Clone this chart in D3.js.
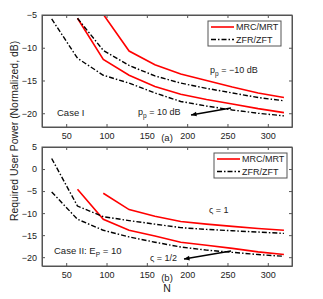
<!DOCTYPE html>
<html>
<head>
  <script src="https://d3js.org/d3.v7.min.js"></script>
  <style>
    body { margin: 0; background: #fff; }
    text { font-family: "Liberation Sans", Arial, sans-serif; fill: #222; }
  </style>
</head>
<body>
  <div id="chart"></div>
  <script>
    // x values (number of antennas N)
    const nZF = [32, 64, 96, 128, 160, 192, 224, 256, 288, 320];
    const nMRC = [64, 96, 128, 160, 192, 224, 256, 288, 320];

    // Case I (top panel)
    const mrcHighA = [-5.5, -11.8, -14.2, -15.9, -17.1, -17.9, -18.6, -19.3, -19.9];   // pp = 10 dB
    const mrcLowA = [null, -4.9, -10.5, -12.6, -14.0, -15.0, -16.0, -16.9, -17.6];      // pp = -10 dB
    const zfHighA = [-5.6, -11.6, -14.2, -15.4, -16.9, -18.2, -18.9, -19.5, -20.0, -20.4];
    const zfLowA = [null, -5.5, -10.4, -12.7, -14.3, -15.4, -16.2, -16.9, -17.6, -18.1];

    // Case II (bottom panel)
    const mrcHalfB = [-4.6, -11.4, -13.9, -15.2, -16.6, -17.3, -18.0, -18.8, -19.4];
    const mrcOneB = [null, -5.5, -9.2, -10.7, -11.9, -12.5, -13.0, -13.5, -13.9];
    const zfHalfB = [-5.2, -11.4, -13.9, -15.4, -16.6, -17.7, -18.4, -18.9, -19.4, -19.8];
    const zfOneB = [2.4, -8.4, -10.8, -11.7, -12.5, -13.3, -13.7, -14.0, -14.3, -14.6];

    const xTicks = [50, 100, 150, 200, 250, 300];
    const yTicksA = [-5, -10, -15, -20];
    const yTicksB = [5, 0, -5, -10, -15, -20];
    const legendNames = ["MRC/MRT", "ZFR/ZFT"];

    const W = 323, H = 299;
    const svg = d3.select("#chart").append("svg").attr("width", W).attr("height", H);

    const x = d3.scaleLinear().domain([20, 330]).range([42, 292]);
    const axisColor = "#555";
    const fmt = d => d < 0 ? "\u2212" + Math.abs(d) : String(d);

    function panel(top, bottom, yDomain, yTicks, series, clipId) {
      const y = d3.scaleLinear().domain(yDomain).range([bottom, top]);
      const g = svg.append("g");

      g.append("clipPath").attr("id", clipId).append("rect")
        .attr("x", 42).attr("y", top).attr("width", 250).attr("height", bottom - top);

      const line = d3.line()
        .defined(d => d[1] != null)
        .x(d => x(d[0])).y(d => y(d[1]));

      series.forEach(s => {
        g.append("path")
          .datum(s.xs.map((n, i) => [n, s.ys[i]]))
          .attr("clip-path", `url(#${clipId})`)
          .attr("fill", "none")
          .attr("stroke", s.red ? "#f00" : "#000")
          .attr("stroke-width", s.red ? 1.6 : 1.4)
          .attr("stroke-dasharray", s.red ? null : "5,2,1.5,2")
          .attr("d", line);
      });

      // axes with inward ticks (box style)
      const bottomAxis = d3.axisBottom(x).tickValues(xTicks).tickSizeInner(-3).tickSizeOuter(0).tickPadding(6);
      const leftAxis = d3.axisLeft(y).tickValues(yTicks).tickSizeInner(-3).tickSizeOuter(0).tickPadding(5).tickFormat(fmt);
      const ax1 = g.append("g").attr("transform", `translate(0,${bottom})`).call(bottomAxis);
      const ax2 = g.append("g").attr("transform", "translate(42,0)").call(leftAxis);
      const ax3 = g.append("g").attr("transform", `translate(0,${top})`)
        .call(d3.axisTop(x).tickValues(xTicks).tickSizeInner(-3).tickSizeOuter(0).tickFormat(""));
      const ax4 = g.append("g").attr("transform", "translate(292,0)")
        .call(d3.axisRight(y).tickValues(yTicks).tickSizeInner(-3).tickSizeOuter(0).tickFormat(""));
      [ax1, ax2, ax3, ax4].forEach(a => {
        a.selectAll("path, line").attr("stroke", axisColor);
        a.selectAll("text").attr("font-size", 9).attr("fill", "#222")
          .style("font-family", "'Liberation Sans', Arial, sans-serif");
      });
      g.append("rect").attr("x", 42).attr("y", top).attr("width", 250).attr("height", bottom - top)
        .attr("fill", "none").attr("stroke", axisColor).attr("stroke-width", 1);
      return { g, y };
    }

    function legend(g, x0, y0) {
      g.append("rect").attr("x", x0).attr("y", y0).attr("width", 73).attr("height", 25)
        .attr("fill", "#fff").attr("stroke", axisColor);
      legendNames.forEach((name, i) => {
        const ly = y0 + 6 + i * 12.5;
        g.append("line").attr("x1", x0 + 3).attr("x2", x0 + 26).attr("y1", ly).attr("y2", ly)
          .attr("stroke", i === 0 ? "#f00" : "#000")
          .attr("stroke-width", i === 0 ? 1.6 : 1.4)
          .attr("stroke-dasharray", i === 0 ? null : "5,2,1.5,2");
        g.append("text").attr("x", x0 + 28).attr("y", ly + 3.3).attr("font-size", 9).text(name);
      });
    }

    function arrow(g, x1, y1, x2, y2) {
      g.append("line").attr("x1", x1).attr("y1", y1).attr("x2", x2).attr("y2", y2)
        .attr("stroke", "#000").attr("stroke-width", 1.3);
      const a = Math.atan2(y2 - y1, x2 - x1), L = 6, w = 0.4;
      const p = [[x2, y2],
        [x2 - L * Math.cos(a - w), y2 - L * Math.sin(a - w)],
        [x2 - L * Math.cos(a + w), y2 - L * Math.sin(a + w)]];
      g.append("path").attr("d", d3.line()(p) + "Z").attr("fill", "#000");
    }

    // top panel
    const A = panel(15, 127, [-22.1, -5], yTicksA, [
      { xs: nMRC, ys: mrcHighA, red: true },
      { xs: nMRC, ys: mrcLowA, red: true },
      { xs: nZF, ys: zfHighA, red: false },
      { xs: nZF, ys: zfLowA, red: false }
    ], "clipA");
    legend(A.g, 208, 21);
    A.g.append("text").attr("x", 57).attr("y", 116).attr("font-size", 9.5).text("Case I");
    const tA1 = A.g.append("text").attr("x", 210).attr("y", 73).attr("font-size", 9);
    tA1.append("tspan").text("p");
    tA1.append("tspan").attr("font-size", 6.5).attr("dy", 2.5).text("p");
    tA1.append("tspan").attr("dy", -2.5).text(" = \u221210 dB");
    const tA2 = A.g.append("text").attr("x", 138).attr("y", 115).attr("font-size", 9);
    tA2.append("tspan").text("p");
    tA2.append("tspan").attr("font-size", 6.5).attr("dy", 2.5).text("p");
    tA2.append("tspan").attr("dy", -2.5).text(" = 10 dB");
    arrow(A.g, 231, 108, 191, 115);
    A.g.append("text").attr("x", 167).attr("y", 141).attr("font-size", 9.5).attr("text-anchor", "middle").text("(a)");

    // bottom panel
    const B = panel(147, 266, [-22, 5], yTicksB, [
      { xs: nMRC, ys: mrcHalfB, red: true },
      { xs: nMRC, ys: mrcOneB, red: true },
      { xs: nZF, ys: zfHalfB, red: false },
      { xs: nZF, ys: zfOneB, red: false }
    ], "clipB");
    legend(B.g, 214, 153);
    const tB0 = B.g.append("text").attr("x", 54).attr("y", 254).attr("font-size", 9.5);
    tB0.append("tspan").text("Case II: E");
    tB0.append("tspan").attr("font-size", 6.5).attr("dy", 2.5).text("P");
    tB0.append("tspan").attr("dy", -2.5).text(" = 10");
    B.g.append("text").attr("x", 209).attr("y", 213).attr("font-size", 9).text("\u03C2 = 1");
    B.g.append("text").attr("x", 150).attr("y", 261).attr("font-size", 9).text("\u03C2 = 1/2");
    arrow(B.g, 231, 251, 184, 259);
    B.g.append("text").attr("x", 167).attr("y", 281).attr("font-size", 9.5).attr("text-anchor", "middle").text("(b)");
    B.g.append("text").attr("x", 167).attr("y", 292).attr("font-size", 10.5).attr("text-anchor", "middle").text("N");

    // shared y label
    svg.append("text").attr("transform", "translate(18,131) rotate(-90)")
      .attr("text-anchor", "middle").attr("font-size", 10.4)
      .text("Required User Power (Normalized, dB)");
  </script>
</body>
</html>
